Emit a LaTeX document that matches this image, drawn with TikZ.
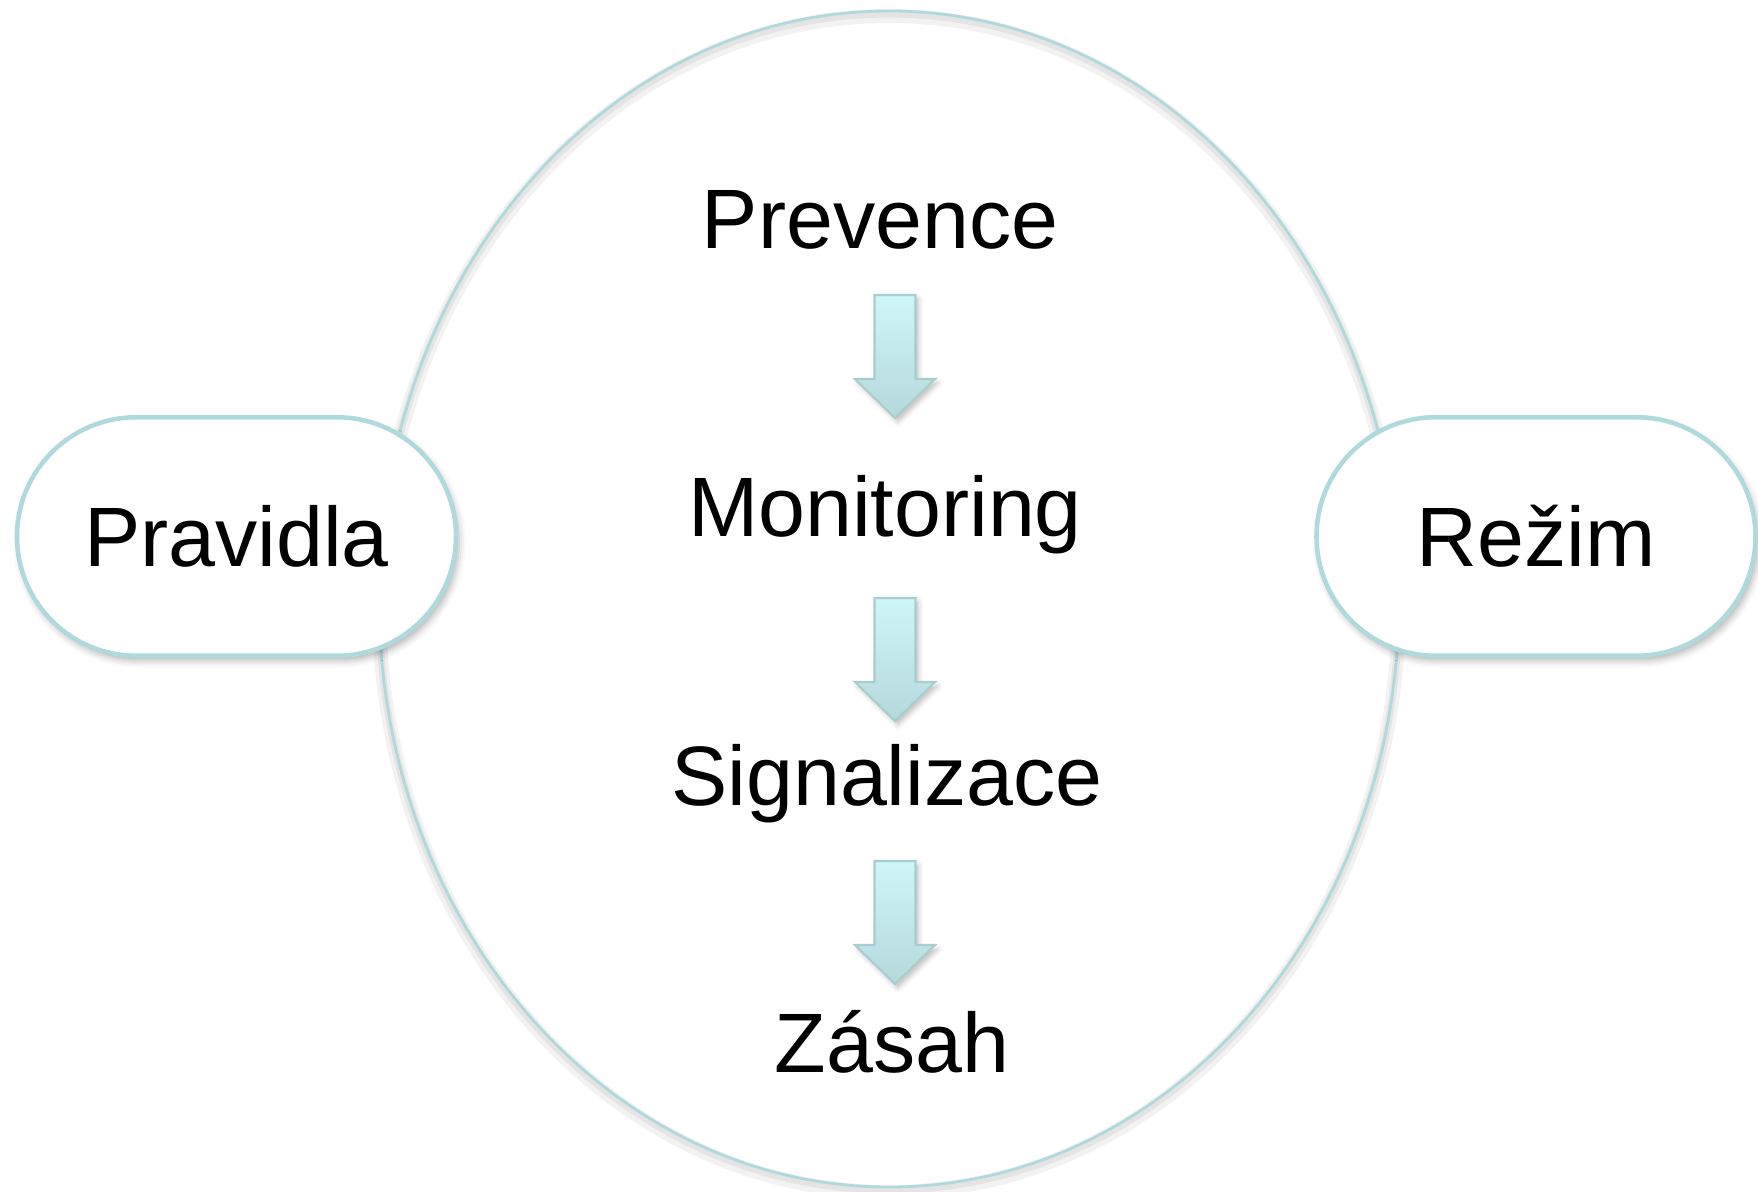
\documentclass[tikz,border=0pt]{standalone}
\usepackage{fontspec}
\setmainfont{Liberation Sans}
\usetikzlibrary{shapes.misc,shadows.blur}
\definecolor{rim}{HTML}{B0D9DE}
\definecolor{arrtop}{HTML}{CDF6F9}
\definecolor{arrbot}{HTML}{B6D8DB}
\definecolor{arredge}{HTML}{A8CDD1}

\begin{document}
\begin{tikzpicture}[
    word/.style={font=\fontsize{24}{29}\selectfont, inner sep=0pt, anchor=base},
    pill/.style={rounded rectangle, draw=rim, line width=1.3pt, fill=white, minimum width=4.39cm, minimum height=2.385cm, inner sep=0pt, font=\fontsize{24}{29}\selectfont, blur shadow={shadow xshift=0.03cm, shadow yshift=-0.05cm, shadow blur radius=0.07cm, shadow opacity=30}},
    blkarrow/.style={draw=arredge, line width=0.6pt, top color=arrtop, bottom color=arrbot, blur shadow={shadow xshift=0.03cm, shadow yshift=-0.04cm, shadow blur radius=0.05cm, shadow opacity=25}}
]
    \useasboundingbox (0,0) rectangle (17.58,11.91);
    \draw[black, opacity=0.05, line width=4pt] (8.89,5.87) ellipse (5.10 and 5.88);
    \draw[black, opacity=0.06, line width=2pt] (8.89,5.89) ellipse (5.10 and 5.88);
    \draw[rim, line width=0.8pt] (8.89,5.92) ellipse (5.10 and 5.88);
    \node[pill] (prav) at (2.365,6.545) {Pravidla};
    \node[pill] (rez) at (15.36,6.545) {Režim};
    \node[word] (prev) at (8.80,9.43) {Prevence};
    \node[word] (mon) at (8.85,6.55) {Monitoring};
    \node[word] (sig) at (8.87,3.86) {Signalizace};
    \node[word] (zas) at (8.92,1.19) {Zásah};
    \foreach \n/\y in {1/8.96, 2/5.93, 3/3.30}{
        \coordinate (t\n) at (8.95,\y);
        \draw[blkarrow] (t\n) ++(-0.205,0) -- ++(0.41,0) -- ++(0,-0.84) -- ++(0.195,0) -- ++(-0.40,-0.39) -- ++(-0.40,0.39) -- ++(0.195,0) -- cycle;
    }
\end{tikzpicture}
\end{document}
